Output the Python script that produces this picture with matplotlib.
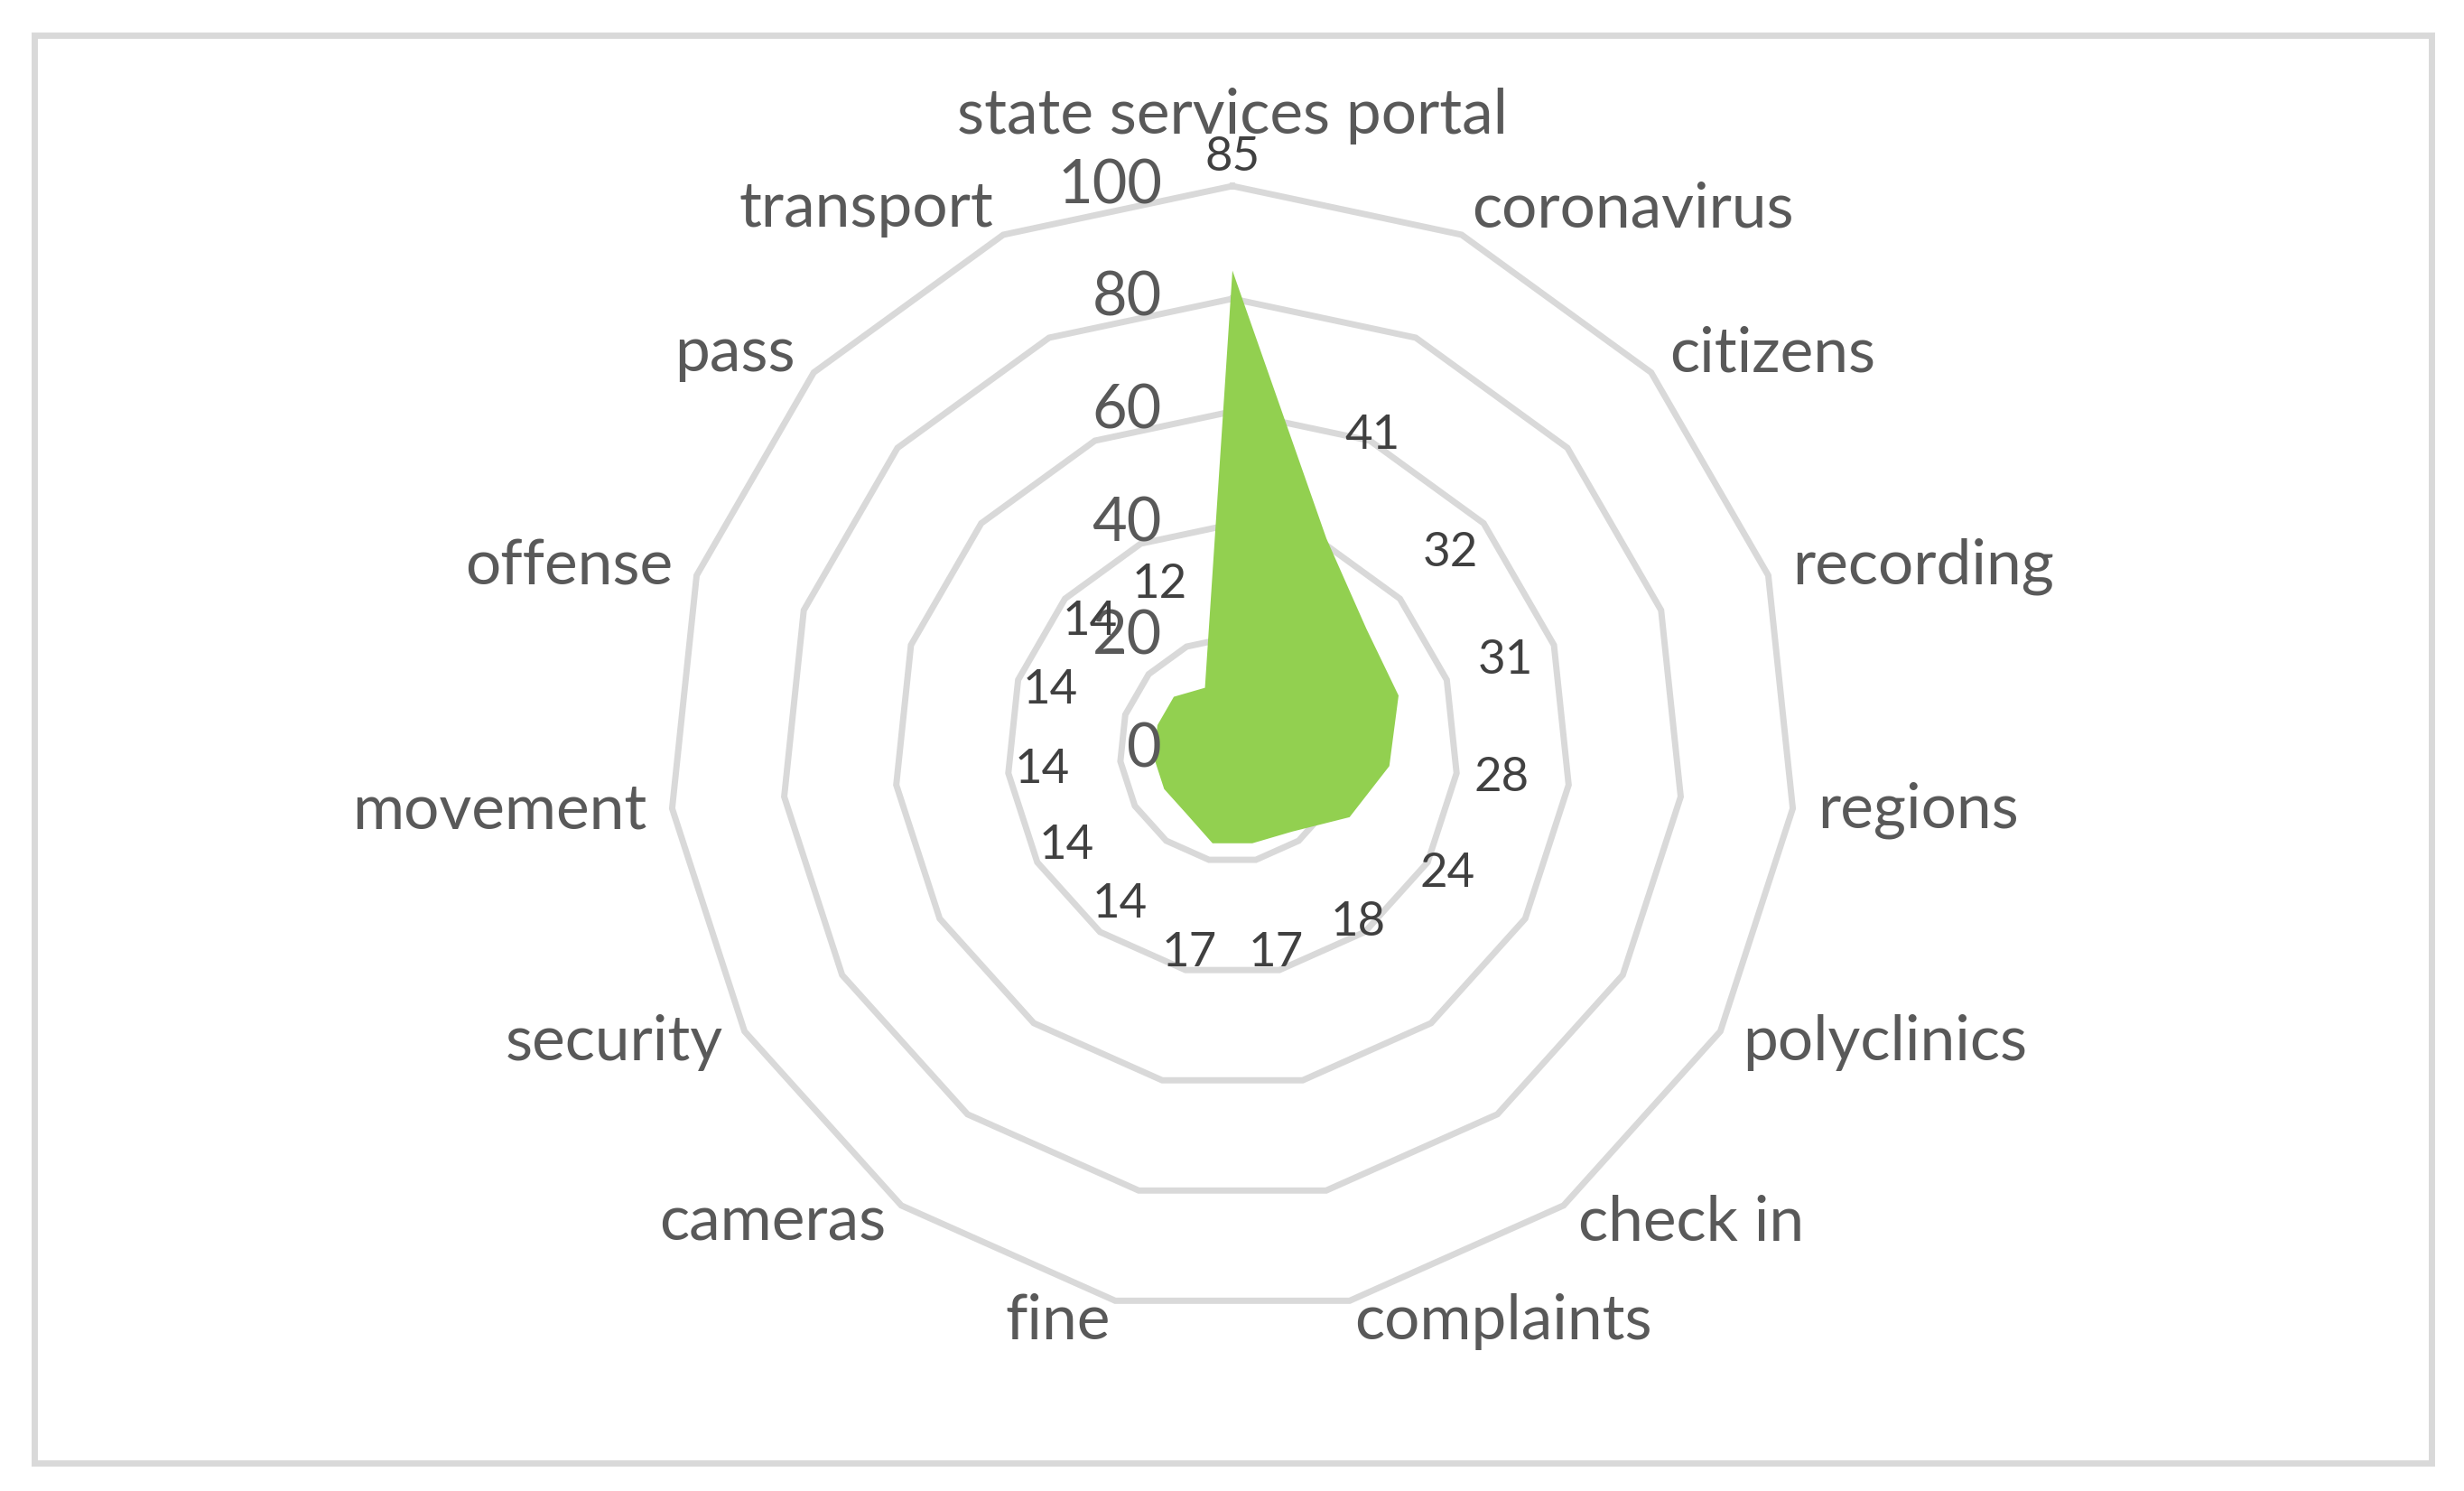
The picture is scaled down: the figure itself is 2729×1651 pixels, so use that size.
import numpy as np
import matplotlib.pyplot as plt
from matplotlib.patches import Rectangle

plt.rcParams['font.family'] = ['Lato', 'DejaVu Sans']

categories = ['state services portal', 'coronavirus', 'citizens', 'recording',
              'regions', 'polyclinics', 'check in', 'complaints', 'fine',
              'cameras', 'security', 'movement', 'offense', 'pass', 'transport']
values = [85, 41, 32, 31, 28, 24, 18, 17, 17, 14, 14, 14, 14, 14, 12]
ring_ticks = [0, 20, 40, 60, 80, 100]

grid_col = '#d9d9d9'
text_col = '#595959'
label_col = '#404040'
fill_col = '#92d050'

W, H = 2729, 1651
fig = plt.figure(figsize=(W / 100, H / 100), dpi=100)

# chart area border
fig.patches.append(Rectangle((37.5 / W, 31.5 / H), 2655 / W, 1580 / H,
                             transform=fig.transFigure, fill=False,
                             edgecolor=grid_col, lw=5))

cx, cy, rad = 1365, 830, 624
ax = fig.add_axes([(cx - rad) / W, (H - cy - rad) / H, 2 * rad / W, 2 * rad / H],
                  projection='polar')
ax.set_theta_zero_location('N')
ax.set_theta_direction(-1)
ax.set_ylim(0, 100)
ax.axis('off')

n = len(categories)
angles = np.linspace(0, 2 * np.pi, n, endpoint=False)
closed = np.append(angles, angles[0])

# polygon rings
for t in ring_ticks[1:]:
    ax.plot(closed, [t] * (n + 1), color=grid_col, lw=5, clip_on=False,
            solid_joinstyle='miter', zorder=1)

ax.fill(closed, np.append(values, values[0]), color=fill_col, lw=0, zorder=2)

# value axis labels
for t in ring_ticks:
    ax.annotate(str(t), xy=(0, t), xytext=(-78, 0), textcoords='offset pixels',
                ha='right', va='center', fontsize=48, color=text_col, zorder=4)

# data labels
for a, v in zip(angles, values):
    ax.text(a, v + 20, str(v), ha='center', va='center', fontsize=38,
            color=label_col, zorder=5)

# category labels
for i, (a, name) in enumerate(zip(angles, categories)):
    s, c = np.sin(a), np.cos(a)
    if i == 0:
        ax.annotate(name, xy=(a, 100), xytext=(0, 58), textcoords='offset pixels',
                    ha='center', va='baseline', fontsize=50, color=text_col)
        continue
    dx = 28 * s
    dy = 31 * c if c > 0 else 24 * c
    ax.annotate(name, xy=(a, 100), xytext=(dx, dy), textcoords='offset pixels',
                ha='left' if s > 0 else 'right', va='center', fontsize=50,
                color=text_col)

fig.savefig('out.png', dpi=100)
